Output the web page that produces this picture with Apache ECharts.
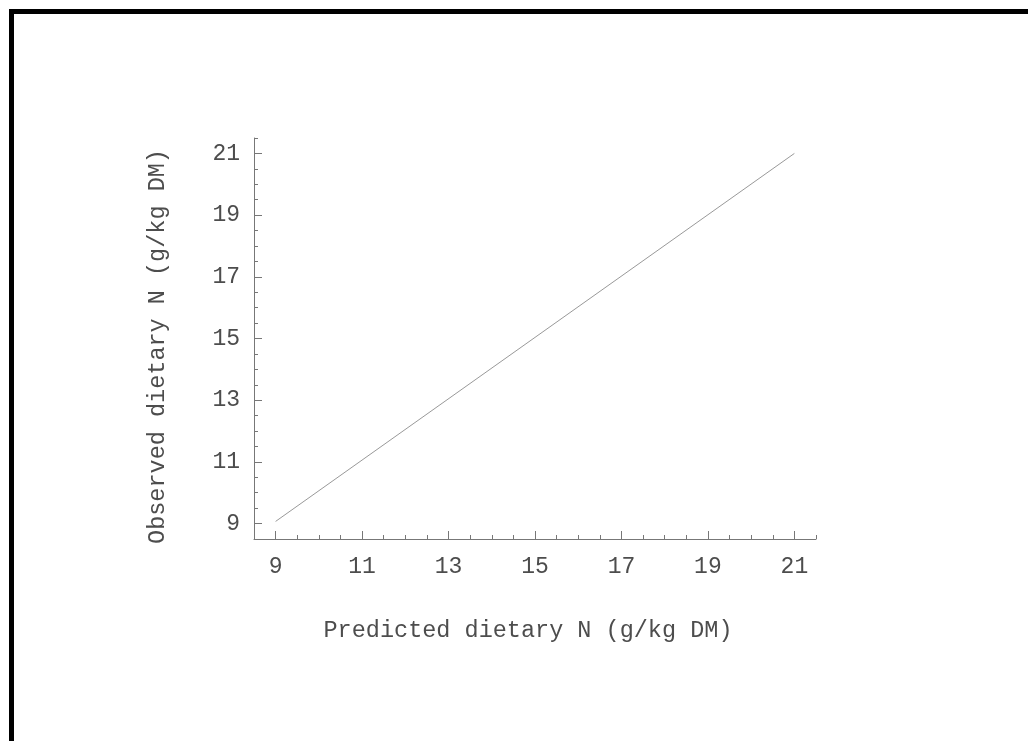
<!DOCTYPE html>
<html>
<head>
<meta charset="utf-8">
<title>Observed vs predicted dietary N</title>
<script src="https://cdn.jsdelivr.net/npm/echarts@6/dist/echarts.min.js"></script>
<style>
  html, body { margin: 0; padding: 0; background: #fff; }
  #chart { position: absolute; left: 0; top: 0; width: 1028px; height: 741px; }
  /* scanned page frame: only top and left edges visible */
  .frame {
    position: absolute; left: 9px; top: 9px; width: 1030px; height: 740px;
    border-top: 5px solid #000; border-left: 5px solid #000;
    pointer-events: none;
  }
</style>
</head>
<body>
<div id="chart"></div>
<div class="frame"></div>
<script>
// tick labels on both axes
const xTickLabels = [9, 11, 13, 15, 17, 19, 21]
const yTickLabels = [9, 11, 13, 15, 17, 19, 21]
// fitted line (predicted -> observed)
const predicted = [9, 21]
const observed = [9.07, 21.0]

const axisMin = 8.5
const axisMax = 21.5
const fontFamily = '"Liberation Mono", "Courier New", monospace'
const textColor = '#4d4d4d'
const lineColor = '#777'

const chart = echarts.init(document.getElementById('chart'))

// base axis: line, minor ticks every 0.5 and labels
const baseAxis = (labels, margin) => ({
  type: 'value',
  min: axisMin,
  max: axisMax,
  interval: 0.5,
  axisLine: { show: true, lineStyle: { color: lineColor, width: 1 } },
  axisTick: { show: true, inside: true, length: 4, lineStyle: { color: lineColor } },
  axisLabel: {
    show: true,
    customValues: labels,
    margin: margin,
    color: textColor,
    fontFamily: fontFamily,
    fontSize: 23
  },
  splitLine: { show: false }
})

// overlay axis: only the longer major ticks
const majorTickAxis = (labels) => ({
  type: 'value',
  min: axisMin,
  max: axisMax,
  axisLine: { show: false },
  axisTick: { show: true, inside: true, length: 8, customValues: labels, lineStyle: { color: lineColor } },
  axisLabel: { show: false },
  splitLine: { show: false }
})

const option = {
  backgroundColor: '#fff',
  animation: false,
  grid: { left: 254, right: 212, top: 138, bottom: 202 },
  xAxis: [
    Object.assign(baseAxis(xTickLabels, 16), {
      position: 'bottom',
      name: 'Predicted dietary N (g/kg DM)',
      nameLocation: 'middle',
      nameGap: 80,
      nameTextStyle: { color: textColor, fontFamily: fontFamily, fontSize: 23.5, padding: [0, 14, 0, 0] }
    }),
    Object.assign(majorTickAxis(xTickLabels), { position: 'bottom' })
  ],
  yAxis: [
    Object.assign(baseAxis(yTickLabels, 14), {
      position: 'left',
      name: 'Observed dietary N (g/kg DM)',
      nameLocation: 'middle',
      nameGap: 84,
      nameTextStyle: { color: textColor, fontFamily: fontFamily, fontSize: 23.5, padding: [0, 16, 0, 0] }
    }),
    Object.assign(majorTickAxis(yTickLabels), { position: 'left' })
  ],
  series: [
    {
      type: 'line',
      xAxisIndex: 0,
      yAxisIndex: 0,
      data: predicted.map((p, i) => [p, observed[i]]),
      showSymbol: false,
      symbol: 'none',
      lineStyle: { color: '#999', width: 1 }
    }
  ]
}

chart.setOption(option)
</script>
</body>
</html>
